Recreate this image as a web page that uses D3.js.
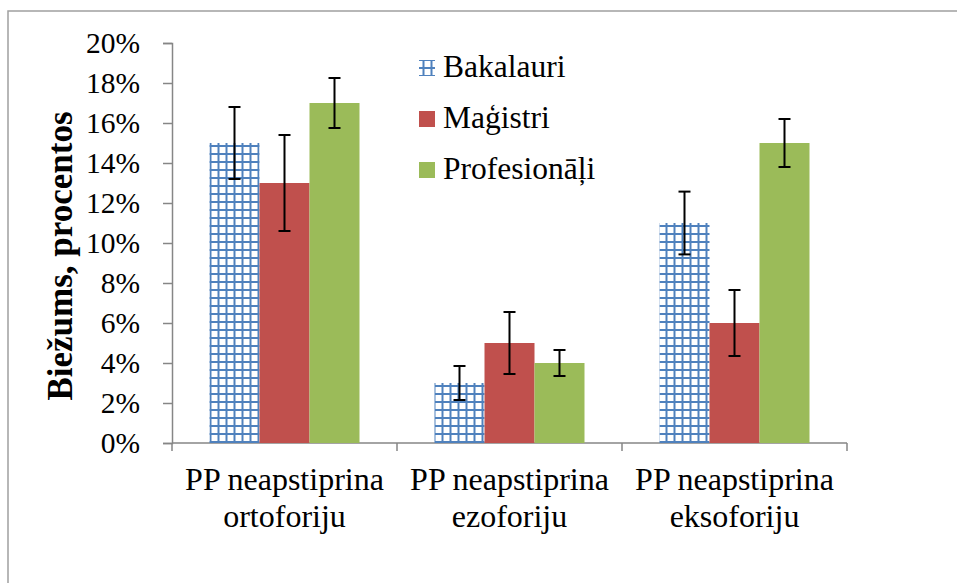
<!DOCTYPE html>
<html>
<head>
<meta charset="utf-8">
<script src="https://cdn.jsdelivr.net/npm/d3@7"></script>
<style>
  body { margin: 0; background: #fff; }
  text { font-family: "Liberation Serif", "Times New Roman", serif; fill: #000; }
</style>
</head>
<body>
<div id="chart"></div>
<script>
// chart data
var categories = ["ortoforiju", "ezoforiju", "eksoforiju"];
var catPrefix = "PP neapstiprina";
var series = ["Bakalauri", "Maģistri", "Profesionāļi"];
var bakalauri = [0.15, 0.03, 0.11];
var magistri = [0.13, 0.05, 0.06];
var profesionali = [0.17, 0.04, 0.15];
var errBakalauri = [0.018, 0.0085, 0.0157];
var errMagistri = [0.024, 0.0155, 0.0165];
var errProfesionali = [0.0125, 0.0065, 0.012];
var yTicks = [0, 0.02, 0.04, 0.06, 0.08, 0.10, 0.12, 0.14, 0.16, 0.18, 0.20];

var values = [bakalauri, magistri, profesionali];
var errors = [errBakalauri, errMagistri, errProfesionali];
var colors = ["url(#hatch)", "#C0504D", "#9BBB59"];

var W = 957, H = 583;
var margin = {top: 43, left: 172},
    width = 675,
    height = 400;

var svg = d3.select("#chart")
  .append("svg")
    .attr("width", W)
    .attr("height", H);

// blue grid pattern for Bakalauri
var defs = svg.append("defs");
function gridPattern(id, tx, ty) {
  var p = defs.append("pattern")
    .attr("id", id)
    .attr("patternUnits", "userSpaceOnUse")
    .attr("width", 8).attr("height", 8)
    .attr("patternTransform", "translate(" + tx + "," + ty + ")");
  p.append("rect").attr("x", 4.5).attr("y", 0).attr("width", 2).attr("height", 8).attr("fill", "#4F81BD");
  p.append("rect").attr("x", 0).attr("y", 4).attr("width", 8).attr("height", 2).attr("fill", "#4F81BD");
}
gridPattern("hatch", 1, 2);
gridPattern("hatchLegend", -1, 3);

// outer frame (right and bottom edges fall outside the picture)
svg.append("rect")
  .attr("x", 8).attr("y", 11)
  .attr("width", 1000).attr("height", 700)
  .attr("fill", "none")
  .attr("stroke", "#a0a0a0")
  .attr("stroke-width", 1.5);

var g = svg.append("g")
  .attr("transform", "translate(" + margin.left + "," + margin.top + ")");

var y = d3.scaleLinear().domain([0, 0.2]).range([height, 0]);
var x0 = d3.scaleBand().domain(categories).range([0, width]);
var x1 = d3.scaleBand().domain(series).range([37.5, 187.5]);

// y axis
var yAxis = g.append("g")
  .call(d3.axisLeft(y).tickValues(yTicks).tickSize(9).tickPadding(23).tickFormat(d3.format(".0%")));
yAxis.selectAll("path, line").attr("stroke", "#868686").attr("stroke-width", 1.5);
yAxis.selectAll("text")
  .style("font-family", "Liberation Serif")
  .style("font-size", "29.5px");

// x axis line with ticks on category boundaries
var xAxis = g.append("g").attr("transform", "translate(0," + height + ")");
xAxis.append("line")
  .attr("x1", 0).attr("x2", width)
  .attr("stroke", "#868686").attr("stroke-width", 1.5);
var bounds = categories.map(function(c) { return x0(c); }).concat([x0.range()[1]]);
xAxis.selectAll(".xtick")
  .data(bounds)
  .enter().append("line")
    .attr("class", "xtick")
    .attr("x1", function(d) { return d; }).attr("x2", function(d) { return d; })
    .attr("y1", 0).attr("y2", 8)
    .attr("stroke", "#868686").attr("stroke-width", 1.5);

var labels = xAxis.selectAll(".xlabel")
  .data(categories)
  .enter().append("text")
    .attr("class", "xlabel")
    .attr("text-anchor", "middle")
    .style("font-size", "32px");
labels.append("tspan")
  .attr("x", function(d) { return x0(d) + x0.bandwidth() / 2; })
  .attr("y", 47)
  .text(catPrefix);
labels.append("tspan")
  .attr("x", function(d) { return x0(d) + x0.bandwidth() / 2; })
  .attr("y", 84)
  .text(function(d) { return d; });

// bars
series.forEach(function(s, si) {
  g.selectAll(".bar" + si)
    .data(categories)
    .enter().append("rect")
      .attr("class", "bar" + si)
      .attr("x", function(c) { return x0(c) + x1(s); })
      .attr("y", function(c, i) { return y(values[si][i]); })
      .attr("width", x1.bandwidth())
      .attr("height", function(c, i) { return height - y(values[si][i]); })
      .attr("fill", colors[si]);
});

// error bars
series.forEach(function(s, si) {
  var eb = g.selectAll(".err" + si)
    .data(categories)
    .enter().append("g")
      .attr("class", "err" + si)
      .attr("stroke", "#000")
      .attr("stroke-width", 2);
  var cx = function(c) { return x0(c) + x1(s) + x1.bandwidth() / 2; };
  eb.append("line")
    .attr("x1", cx).attr("x2", cx)
    .attr("y1", function(c, i) { return y(values[si][i] + errors[si][i]); })
    .attr("y2", function(c, i) { return y(values[si][i] - errors[si][i]); });
  [1, -1].forEach(function(sign) {
    eb.append("line")
      .attr("x1", function(c) { return cx(c) - 6; })
      .attr("x2", function(c) { return cx(c) + 6; })
      .attr("y1", function(c, i) { return y(values[si][i] + sign * errors[si][i]); })
      .attr("y2", function(c, i) { return y(values[si][i] + sign * errors[si][i]); });
  });
});

// y axis title
svg.append("text")
  .attr("transform", "translate(72,256) rotate(-90)")
  .attr("text-anchor", "middle")
  .style("font-size", "35px")
  .style("font-weight", "bold")
  .text("Biežums, procentos");

// legend
var legend = svg.selectAll(".legend")
  .data(series)
  .enter().append("g")
    .attr("class", "legend")
    .attr("transform", function(d, i) { return "translate(419," + (60 + i * 51) + ")"; });
legend.append("rect")
  .attr("width", 16).attr("height", 16)
  .attr("fill", function(d, i) { return i === 0 ? "url(#hatchLegend)" : colors[i]; });
legend.append("text")
  .attr("x", 24)
  .attr("y", 17)
  .style("font-size", "31.5px")
  .text(function(d) { return d; });
</script>
</body>
</html>
